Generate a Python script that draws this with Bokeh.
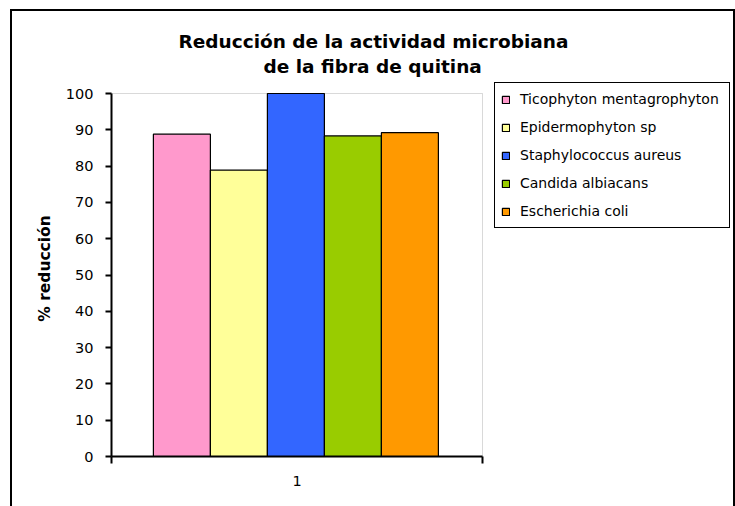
from bokeh.plotting import figure
from bokeh.models import (ColumnDataSource, Range1d, Title, FixedTicker, BoxAnnotation,
                          Legend, LegendItem)
from bokeh.transform import dodge
from bokeh.embed import file_html
from bokeh.resources import INLINE

categories = ["1"]
series = ["Ticophyton mentagrophyton", "Epidermophyton sp", "Staphylococcus aureus",
          "Candida albiacans", "Escherichia coli"]
values = [88.8, 78.9, 100.0, 88.3, 89.2]
colors = ["#FF99CC", "#FFFF99", "#3366FF", "#99CC00", "#FF9900"]
y_ticks = [0, 10, 20, 30, 40, 50, 60, 70, 80, 90, 100]
title_lines = ["Reducción de la actividad microbiana", "de la fibra de quitina"]
y_label = "% reducción"

# layout (pixels)
W, H = 735, 506
LEFT, RIGHT_B, TOP, BOTTOM_B = 111, 5, 80, 50
plot_top_px = 93          # where the top of the value axis sits
cat_px = 371              # width of the category area in pixels

frame_w = W - LEFT - RIGHT_B
frame_h = H - TOP - BOTTOM_B
y_max = y_ticks[-1]
y_end = y_max * frame_h / (H - BOTTOM_B - plot_top_px)
x_end = len(categories) * frame_w / cat_px

p = figure(width=W, height=H, output_backend="svg", toolbar_location=None,
           x_range=Range1d(0, x_end), y_range=Range1d(0, y_end),
           min_border_left=LEFT, min_border_right=RIGHT_B,
           min_border_top=TOP, min_border_bottom=BOTTOM_B)
p.title = None
p.styles = {
    "background-color": "white",
    "box-shadow": "inset 10px 9px 0 0 white, inset 12px 11px 0 0 black, inset -2px 0 0 0 black",
}
p.border_fill_alpha = 0
p.background_fill_alpha = 0
p.outline_line_color = None
p.xgrid.visible = False
p.ygrid.visible = False

# plot-area border (grey) under the bars
p.add_layout(BoxAnnotation(left=0, right=len(categories), bottom=0, top=y_max,
                           fill_alpha=0, line_color="#808080", line_width=1, level="underlay"))

data = {"xc": [i + 0.5 for i in range(len(categories))]}
for i, v in enumerate(values):
    data["s%d" % i] = [v]
src = ColumnDataSource(data)

bw = 57.0 / cat_px
items = []
for i, (name, col) in enumerate(zip(series, colors)):
    r = p.vbar(x=dodge("xc", (i - 2) * bw - 0.003), top="s%d" % i, width=bw,
               source=src, fill_color=col, line_color="#000000", line_width=1.2)
    items.append(LegendItem(label=name, renderers=[r]))

ya = p.yaxis[0]
ya.ticker = FixedTicker(ticks=y_ticks)
ya.bounds = (0, y_max)
ya.axis_line_width = 2
ya.axis_line_color = "black"
ya.major_tick_line_width = 2
ya.major_tick_out = 6
ya.major_tick_in = 0
ya.minor_tick_line_color = None
ya.major_label_standoff = 12
ya.major_label_text_font = "DejaVu Sans"
ya.major_label_text_font_size = "14.5px"
ya.major_label_text_color = "black"
ya.axis_label = y_label
ya.axis_label_text_font = "DejaVu Sans"
ya.axis_label_text_font_style = "bold"
ya.axis_label_text_font_size = "15.5px"
ya.axis_label_text_color = "black"
ya.axis_label_standoff = 9

xa = p.xaxis[0]
xa.ticker = FixedTicker(ticks=data["xc"], minor_ticks=[float(i) for i in range(len(categories) + 1)])
xa.major_label_overrides = {x: c for x, c in zip(data["xc"], categories)}
xa.bounds = (0, len(categories))
xa.axis_line_width = 2
xa.axis_line_color = "black"
xa.major_tick_line_color = None
xa.major_tick_out = 0
xa.major_tick_in = 0
xa.minor_tick_line_color = "black"
xa.minor_tick_line_width = 2
xa.minor_tick_out = 7
xa.minor_tick_in = 0
xa.major_label_standoff = 12
xa.major_label_text_font = "DejaVu Sans"
xa.major_label_text_font_size = "14.5px"
xa.major_label_text_color = "black"

lg = Legend(items=items, location=(383, 228), orientation="vertical")
lg.margin = 0
lg.padding = 6
lg.glyph_width = 9
lg.glyph_height = 9
lg.label_height = 20
lg.label_width = 203
lg.spacing = 8
lg.label_standoff = 10
lg.label_text_font = "DejaVu Sans"
lg.label_text_font_size = "14px"
lg.label_text_color = "black"
lg.border_line_color = "black"
lg.border_line_alpha = 1
lg.border_line_width = 1.5
lg.background_fill_color = "white"
lg.background_fill_alpha = 1
p.add_layout(lg, "center")

t2 = Title(text=title_lines[1], align="left", offset=152, vertical_align="bottom", standoff=8,
           text_font="DejaVu Sans", text_font_style="bold", text_font_size="18.5px", text_color="black")
t1 = Title(text=title_lines[0], align="left", offset=67, vertical_align="bottom", standoff=-4,
           text_font="DejaVu Sans", text_font_style="bold", text_font_size="18.5px", text_color="black")
p.add_layout(t2, "above")
p.add_layout(t1, "above")

open("out.html", "w").write(file_html(p, INLINE))
